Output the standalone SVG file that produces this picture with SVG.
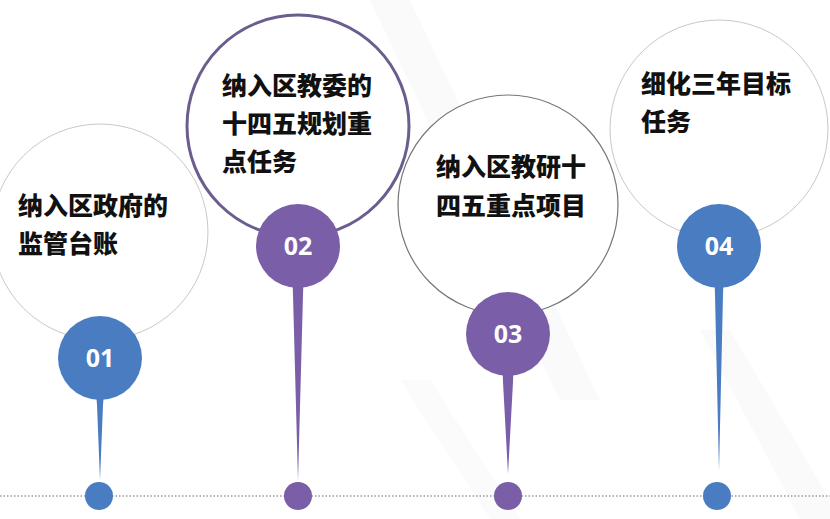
<svg xmlns="http://www.w3.org/2000/svg" width="830" height="519" viewBox="0 0 830 519">
<style>
.lbl{font-family:"Noto Sans CJK SC","Noto Sans",sans-serif;font-weight:900;font-size:25px;fill:#111}
.num{font-family:"Open Sans","Liberation Sans",sans-serif;font-weight:700;font-size:25px;fill:#fff;text-anchor:middle}
.blue{fill:#4a7cc2}
.purple{fill:#7a5ea8}
</style>
<rect width="830" height="519" fill="#fff"/>
<g id="background">
<polygon points="370,0 410,0 600,400 560,400" fill="#fafafa"/>
<polygon points="700,330 730,330 830,500 830,519 800,519" fill="#fafafa"/>
<polygon points="400,380 430,380 520,519 490,519" fill="#fbfbfb"/>
</g>
<g id="connectors">
<line x1="0" y1="496" x2="830" y2="496" stroke="#9a9a9a" stroke-width="1.5" stroke-dasharray="1.5 2"/>
<path class="blue" d="M95,392 Q97,398 97,405 L100,480 L103,405 Q103,398 105,392 Z"/>
<path class="purple" d="M292,280 Q293,288 293,295 L298,481 L303,295 Q303,288 304,280 Z"/>
<path class="purple" d="M502,368 Q503,376 503,382 L508,474 L513,382 Q513,376 514,368 Z"/>
<path class="blue" d="M714,280 Q715,288 715,295 L719,471 L723,295 Q723,288 724,280 Z"/>
</g>
<g id="node1">
<circle cx="100" cy="232" r="108" fill="#fff" stroke="#c8c8c8" stroke-width="1"/>
<text class="lbl" x="18" y="215">纳入区政府的</text>
<text class="lbl" x="18" y="253">监管台账</text>
<circle class="blue" cx="100" cy="358" r="42"/>
<text class="num" x="100" y="367">01</text>
<circle class="blue" cx="99" cy="496" r="14"/>
</g>
<g id="node2">
<circle cx="298" cy="126" r="111" fill="#fff" stroke="#6b5e8e" stroke-width="3"/>
<text class="lbl" x="222" y="95">纳入区教委的</text>
<text class="lbl" x="222" y="133">十四五规划重</text>
<text class="lbl" x="222" y="171">点任务</text>
<circle class="purple" cx="298" cy="246" r="42"/>
<text class="num" x="298" y="255">02</text>
<circle class="purple" cx="298" cy="496" r="14"/>
</g>
<g id="node3">
<circle cx="508" cy="205" r="110" fill="#fff" stroke="#777" stroke-width="1.2"/>
<text class="lbl" x="436" y="176">纳入区教研十</text>
<text class="lbl" x="436" y="215">四五重点项目</text>
<circle class="purple" cx="508" cy="334" r="42"/>
<text class="num" x="508" y="343">03</text>
<circle class="purple" cx="508" cy="496" r="14"/>
</g>
<g id="node4">
<circle cx="719" cy="129" r="109" fill="#fff" stroke="#c8c8c8" stroke-width="1"/>
<text class="lbl" x="641" y="93">细化三年目标</text>
<text class="lbl" x="641" y="131">任务</text>
<circle class="blue" cx="719" cy="246" r="42"/>
<text class="num" x="719" y="255">04</text>
<circle class="blue" cx="717" cy="496" r="14"/>
</g>
</svg>
